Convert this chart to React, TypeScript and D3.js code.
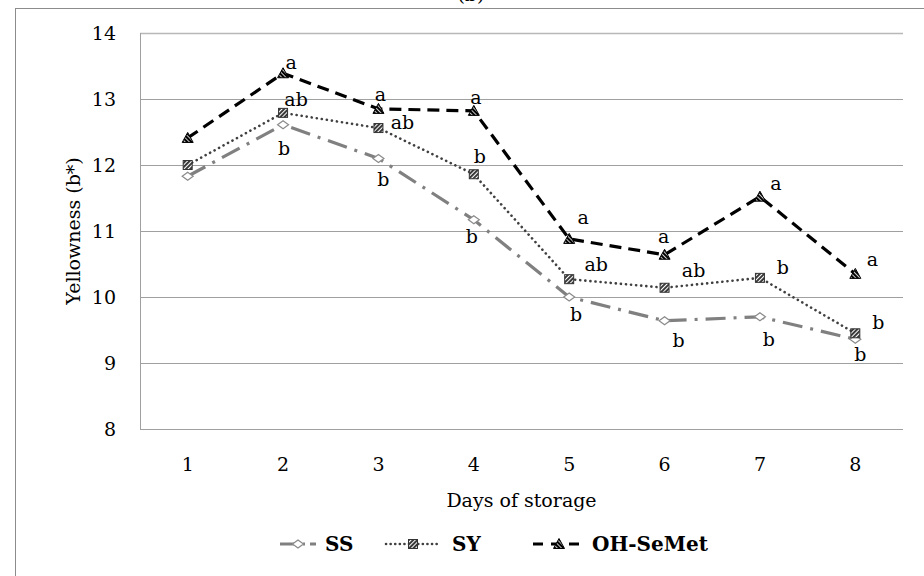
import React, { useEffect, useRef } from "react";
import * as d3 from "d3";

const days = ["1", "2", "3", "4", "5", "6", "7", "8"];
const yTicks = [8, 9, 10, 11, 12, 13, 14];

const ssValues = [11.83, 12.61, 12.1, 11.17, 10.0, 9.64, 9.7, 9.36];
const syValues = [12.0, 12.79, 12.56, 11.86, 10.27, 10.14, 10.29, 9.45];
const ohValues = [12.41, 13.39, 12.85, 12.82, 10.88, 10.64, 11.52, 10.35];

const ssLetters = ["", "b", "b", "b", "b", "b", "b", "b"];
const syLetters = ["", "ab", "ab", "b", "ab", "ab", "b", "b"];
const ohLetters = ["", "a", "a", "a", "a", "a", "a", "a"];

const seriesNames = ["SS", "SY", "OH-SeMet"];

const FONT = "'DejaVu Serif', 'Liberation Serif', serif";

const App: React.FC = () => {
  const svgRef = useRef<SVGSVGElement | null>(null);

  useEffect(() => {
    if (!svgRef.current) return;
    const svg = d3.select(svgRef.current);
    svg.selectAll("*").remove();

    const width = 924;
    const height = 576;
    const margin = { top: 33, right: 21, bottom: 147, left: 140 };

    svg.attr("width", width).attr("height", height);

    // hatch patterns for markers
    const defs = svg.append("defs");
    const sq = defs
      .append("pattern")
      .attr("id", "hatchSq")
      .attr("patternUnits", "userSpaceOnUse")
      .attr("width", 3)
      .attr("height", 3)
      .attr("patternTransform", "rotate(45)");
    sq.append("rect").attr("width", 3).attr("height", 3).attr("fill", "#3a3a3a");
    sq.append("rect").attr("width", 1).attr("height", 3).attr("fill", "#ffffff");
    const tri = defs
      .append("pattern")
      .attr("id", "hatchTri")
      .attr("patternUnits", "userSpaceOnUse")
      .attr("width", 3)
      .attr("height", 3)
      .attr("patternTransform", "rotate(-45)");
    tri.append("rect").attr("width", 3).attr("height", 3).attr("fill", "#000");
    tri.append("rect").attr("width", 0.8).attr("height", 3).attr("fill", "#fff");

    // outer frame
    svg
      .append("rect")
      .attr("x", 15.5)
      .attr("y", 8.5)
      .attr("width", 940)
      .attr("height", 600)
      .attr("fill", "#fff")
      .attr("stroke", "#8c8c8c")
      .attr("stroke-width", 1);

    // title, cut off at the top edge as in the source
    svg
      .append("text")
      .attr("x", 471)
      .attr("y", 1)
      .attr("text-anchor", "middle")
      .style("font-family", FONT)
      .style("font-size", "19px")
      .text("(b)");

    const x = d3
      .scaleBand<string>()
      .domain(days)
      .range([margin.left, width - margin.right]);
    const y = d3
      .scaleLinear()
      .domain([8, 14])
      .range([height - margin.bottom, margin.top]);

    const g = svg.append("g");

    // gridlines
    g.selectAll("line.grid")
      .data(yTicks)
      .enter()
      .append("line")
      .attr("class", "grid")
      .attr("x1", margin.left)
      .attr("x2", width - margin.right)
      .attr("y1", (d) => Math.round(y(d)) + 0.5)
      .attr("y2", (d) => Math.round(y(d)) + 0.5)
      .attr("stroke", (d) => (d === 14 ? "#b8b8b8" : "#a0a0a0"))
      .attr("stroke-width", (d) => (d === 14 ? 1.6 : 1));

    g.append("line")
      .attr("x1", margin.left + 0.5)
      .attr("x2", margin.left + 0.5)
      .attr("y1", y(14))
      .attr("y2", y(8))
      .attr("stroke", "#a0a0a0");

    // y tick labels
    g.selectAll("text.ytick")
      .data(yTicks)
      .enter()
      .append("text")
      .attr("class", "ytick")
      .attr("x", margin.left - 24)
      .attr("y", (d) => y(d))
      .attr("dy", "0.35em")
      .attr("text-anchor", "end")
      .style("font-family", FONT)
      .style("font-size", "19px")
      .text((d) => d);

    // x tick labels
    g.selectAll("text.xtick")
      .data(days)
      .enter()
      .append("text")
      .attr("class", "xtick")
      .attr("x", (d) => (x(d) as number) + x.bandwidth() / 2)
      .attr("y", y(8) + 42)
      .attr("text-anchor", "middle")
      .style("font-family", FONT)
      .style("font-size", "19px")
      .text((d) => d);

    // axis titles
    svg
      .append("text")
      .attr("transform", `translate(80,${(y(8) + y(14)) / 2}) rotate(-90)`)
      .attr("text-anchor", "middle")
      .style("font-family", FONT)
      .style("font-size", "19px")
      .text("Yellowness (b*)");

    svg
      .append("text")
      .attr("x", (margin.left + width - margin.right) / 2)
      .attr("y", y(8) + 78)
      .attr("text-anchor", "middle")
      .style("font-family", FONT)
      .style("font-size", "19px")
      .text("Days of storage");

    const cx = (i: number) => (x(days[i]) as number) + x.bandwidth() / 2;

    const styles = [
      { color: "#808080", width: 3.2, dash: "20,8,3,8", cap: "butt" },
      { color: "#404040", width: 2.6, dash: "0.1,5", cap: "round" },
      { color: "#000000", width: 3.2, dash: "12,7", cap: "butt" },
    ];

    const drawMarker = (
      sel: d3.Selection<SVGGElement, unknown, null, undefined>,
      k: number,
      px: number,
      py: number
    ) => {
      if (k === 0) {
        sel
          .append("path")
          .attr("d", `M${px - 5.5},${py} L${px},${py - 4} L${px + 5.5},${py} L${px},${py + 4} Z`)
          .attr("fill", "#fff")
          .attr("stroke", "#8a8a8a")
          .attr("stroke-width", 1.2);
      } else if (k === 1) {
        sel
          .append("rect")
          .attr("x", px - 4.5)
          .attr("y", py - 4.5)
          .attr("width", 9)
          .attr("height", 9)
          .attr("fill", "url(#hatchSq)")
          .attr("stroke", "#333")
          .attr("stroke-width", 1);
      } else {
        sel
          .append("path")
          .attr("d", `M${px},${py - 5.5} L${px + 5.5},${py + 4.5} L${px - 5.5},${py + 4.5} Z`)
          .attr("fill", "url(#hatchTri)")
          .attr("stroke", "#000")
          .attr("stroke-width", 1);
      }
    };

    const allValues = [ssValues, syValues, ohValues];
    const allLetters = [ssLetters, syLetters, ohLetters];

    // letter offsets relative to each point (layout only)
    const letterOffsets: [number, number][][] = [
      [[0, 0], [1, 25], [5, 22], [-2, 18], [7, 18], [14, 21], [9, 23], [5, 16]],
      [[0, 0], [13, -13], [24, -5], [6, -17], [27, -14], [29, -16], [23, -10], [23, -10]],
      [[0, 0], [8, -10], [2, -14], [2, -13], [14, -21], [-1, -17], [16, -12], [17, -14]],
    ];

    const line = d3
      .line<number>()
      .x((_, i) => cx(i))
      .y((d) => y(d));

    allValues.forEach((vals, k) => {
      const st = styles[k];
      g.append("path")
        .datum(vals)
        .attr("d", line)
        .attr("fill", "none")
        .attr("stroke", st.color)
        .attr("stroke-width", st.width)
        .attr("stroke-dasharray", st.dash)
        .attr("stroke-linecap", st.cap);
    });

    allValues.forEach((vals, k) => {
      const mg = g.append("g");
      vals.forEach((v, i) => drawMarker(mg, k, cx(i), y(v)));
    });

    allValues.forEach((vals, k) => {
      g.selectAll(`text.lab${k}`)
        .data(vals)
        .enter()
        .append("text")
        .attr("class", `lab${k}`)
        .attr("x", (v, i) => cx(i) + letterOffsets[k][i][0])
        .attr("y", (v, i) => y(v) + letterOffsets[k][i][1])
        .attr("dy", "0.3em")
        .attr("text-anchor", "middle")
        .style("font-family", FONT)
        .style("font-size", "19px")
        .text((_, i) => allLetters[k][i]);
    });

    // legend
    const legendY = 544;
    const legendItems = [
      { marker: 298, half: 18, text: 325 },
      { marker: 413, half: 27, text: 452 },
      { marker: 559, half: 26, text: 592 },
    ];
    seriesNames.forEach((name, k) => {
      const it = legendItems[k];
      const st = styles[k];
      const lg = svg.append("g");
      lg.append("line")
        .attr("x1", it.marker - it.half)
        .attr("x2", it.marker + it.half)
        .attr("y1", legendY)
        .attr("y2", legendY)
        .attr("stroke", st.color)
        .attr("stroke-width", st.width)
        .attr("stroke-dasharray", k === 0 ? "18,5,2,5" : k === 1 ? "0.1,4.5" : "10,8")
        .attr("stroke-linecap", st.cap);
      drawMarker(lg, k, it.marker, legendY);
      lg.append("text")
        .attr("x", it.text)
        .attr("y", legendY)
        .attr("dy", "0.35em")
        .style("font-family", FONT)
        .style("font-size", "20px")
        .style("font-weight", "bold")
        .text(name);
    });
  }, []);

  return (
    <svg
      ref={svgRef}
      style={{ position: "absolute", left: 0, top: 0, display: "block" }}
    ></svg>
  );
};

export default App;
